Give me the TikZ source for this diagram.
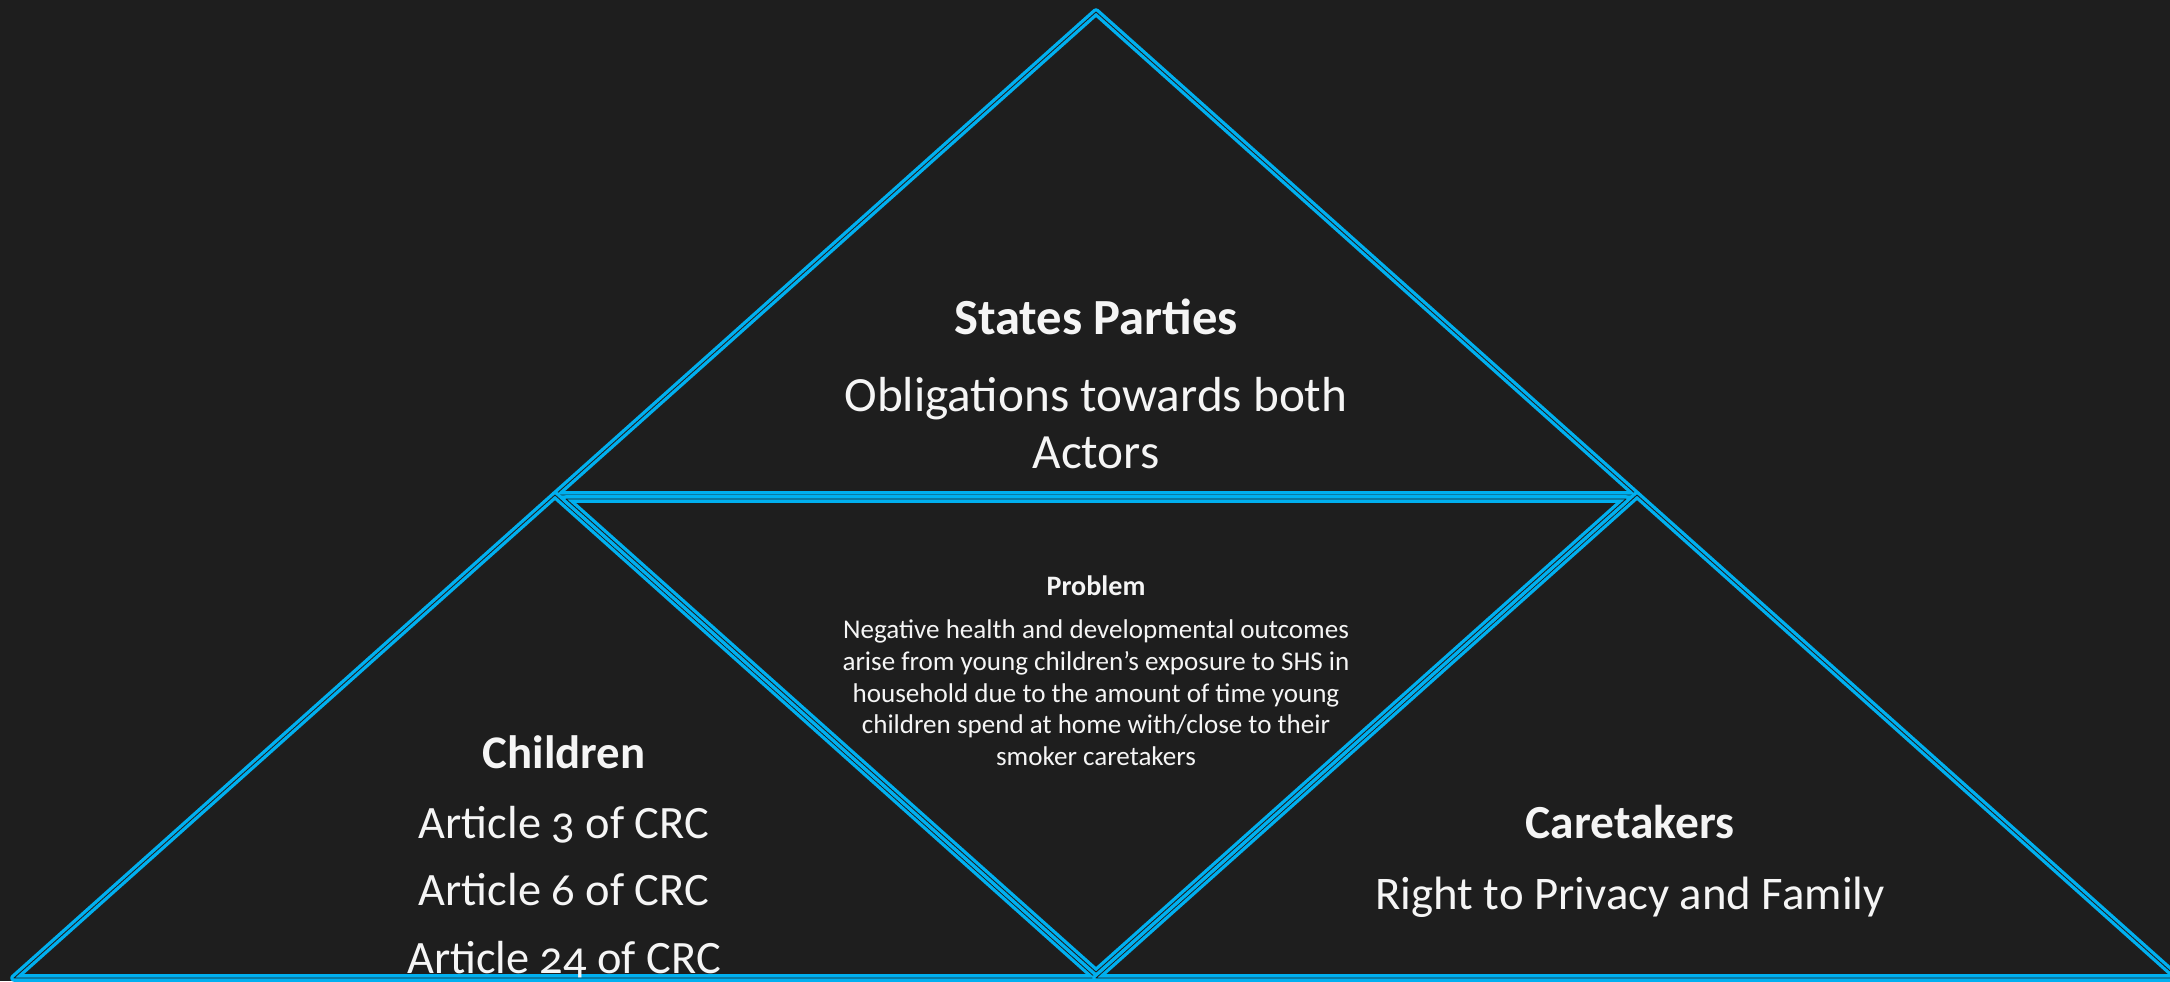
\documentclass[tikz,border=0pt]{standalone}
\usepackage{fontspec}
\setmainfont{Carlito}[Numbers=OldStyle]
\definecolor{board}{RGB}{30,30,30}
\definecolor{lineblue}{RGB}{0,176,240}
\definecolor{chalk}{RGB}{245,245,245}
\tikzset{
    tri/.style={draw=lineblue, line width=0.95pt, double=board,
                double distance=0.25pt, line join=round},
    txt/.style={text=chalk, inner sep=0pt, anchor=base}
}

\begin{document}
\begin{tikzpicture}[x=0.01cm,y=-0.01cm]
\fill[board] (0,0) rectangle (2170,981);
\useasboundingbox (0,0) rectangle (2170,981);
\clip (0,0) rectangle (2170,981);

% corners of the big triangle and the midpoints
\coordinate (apex) at (1096,12);
\coordinate (bl) at (14,978);
\coordinate (br) at (2178,978);
\coordinate (lmid) at (555,495);
\coordinate (rmid) at (1637,495);
\coordinate (bmid) at (1096,978);
% the middle one sits a little inside
\coordinate (ilmid) at (566,499);
\coordinate (irmid) at (1626,499);
\coordinate (ibmid) at (1096,972);

\draw[tri] (apex) -- (lmid) -- (rmid) -- cycle;
\draw[tri] (lmid) -- (bl) -- (bmid) -- cycle;
\draw[tri] (rmid) -- (bmid) -- (br) -- cycle;
\draw[tri] (ilmid) -- (irmid) -- (ibmid) -- cycle;

% top: states parties
\begin{scope}[every node/.style={txt, font=\fontsize{14}{17}\selectfont}]
    \node[font=\fontsize{14.4}{17}\selectfont\bfseries] (states) at (1096,334) {States Parties};
    \node (oblig) at (1096,411) {Obligations towards both};
    \node (actors) at (1096,468) {Actors};
\end{scope}

% left: children
\begin{scope}[every node/.style={txt, font=\fontsize{13.2}{15}\selectfont}]
    \node[font=\fontsize{13.3}{15}\selectfont\bfseries] (children) at (564,768) {Children};
    \node (art3) at (564,838) {Article 3 of CRC};
    \node (art6) at (564,905) {Article 6 of CRC};
    \node (art24) at (564,973) {Article 24 of CRC};
\end{scope}

% right: caretakers
\begin{scope}[every node/.style={txt, font=\fontsize{13.3}{15}\selectfont}]
    \node[font=\fontsize{13.5}{15}\selectfont\bfseries] (caretakers) at (1630,838) {Caretakers};
    \node (privacy) at (1630,909) {Right to Privacy and Family};
\end{scope}

% middle: the problem
\begin{scope}[every node/.style={txt, font=\fontsize{7.7}{9}\selectfont}]
    \node[font=\fontsize{8}{9}\selectfont\bfseries] (problem) at (1096,595) {Problem};
    \node (prob1) at (1096,638) {Negative health and developmental outcomes};
    \node (prob2) at (1096,670) {arise from young children’s exposure to SHS in};
    \node (prob3) at (1096,702) {household due to the amount of time young};
    \node (prob4) at (1096,733) {children spend at home with/close to their};
    \node (prob5) at (1096,765) {smoker caretakers};
\end{scope}
\end{tikzpicture}
\end{document}
